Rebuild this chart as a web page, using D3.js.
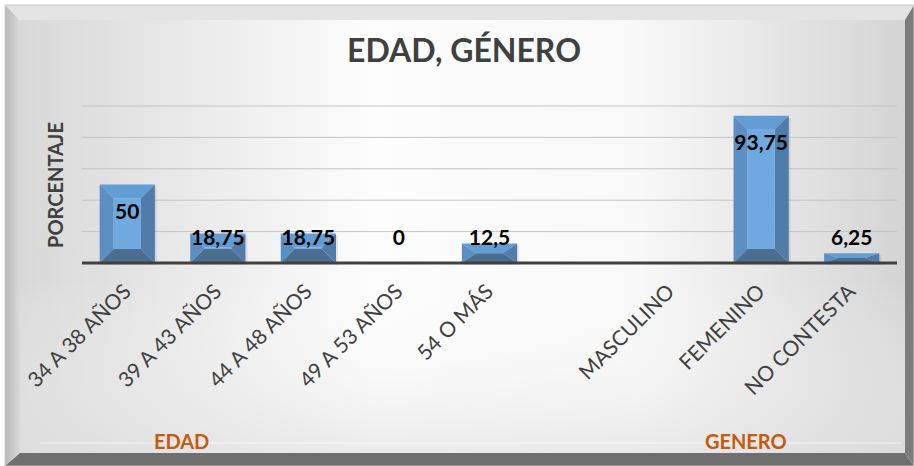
<!DOCTYPE html>
<html>
<head>
<meta charset="utf-8">
<script src="https://cdnjs.cloudflare.com/ajax/libs/d3/7.8.5/d3.min.js"></script>
<style>
    body { margin: 0; background: #ffffff; }
    svg text { font-family: Lato, "Open Sans", sans-serif; }
</style>
</head>
<body>
<div id="chart"><svg></svg></div>
<script>
// categories (empty one is the gap between the two groups)
var categories = ["34 A 38 AÑOS", "39 A 43 AÑOS", "44 A 48 AÑOS", "49 A 53 AÑOS", "54 O MÁS", "", "MASCULINO", "FEMENINO", "NO CONTESTA"];
var values = [50, 18.75, 18.75, 0, 12.5, null, null, 93.75, 6.25];
var yTicks = [0, 20, 40, 60, 80, 100];
var groupNames = ["EDAD", "GENERO"];

var width = 914, height = 466;
var svg = d3.select("#chart svg").attr("width", width).attr("height", height);
var defs = svg.append("defs");

// frame / background gradients
var bg = defs.append("linearGradient").attr("id", "bg").attr("x1", 0).attr("x2", 1).attr("y1", 0).attr("y2", 0);
bg.append("stop").attr("offset", "0%").attr("stop-color", "#d8d8d8");
bg.append("stop").attr("offset", "40%").attr("stop-color", "#fdfdfd");
bg.append("stop").attr("offset", "70%").attr("stop-color", "#f8f8f8");
bg.append("stop").attr("offset", "100%").attr("stop-color", "#d4d4d4");

var bgV = defs.append("linearGradient").attr("id", "bgV").attr("x1", 0).attr("x2", 0).attr("y1", 0).attr("y2", 1);
bgV.append("stop").attr("offset", "0%").attr("stop-color", "#ffffff").attr("stop-opacity", 0);
bgV.append("stop").attr("offset", "60%").attr("stop-color", "#ffffff").attr("stop-opacity", 0);
bgV.append("stop").attr("offset", "100%").attr("stop-color", "#e0e0e0").attr("stop-opacity", 0.6);

var leftBev = defs.append("linearGradient").attr("id", "leftBev").attr("x1", 0).attr("x2", 1).attr("y1", 0).attr("y2", 0);
leftBev.append("stop").attr("offset", "0%").attr("stop-color", "#b8b8b8");
leftBev.append("stop").attr("offset", "100%").attr("stop-color", "#dadada");

var L = 5, T = 5, R = 914, B = 466, bw = 15;
var inL = L + bw, inT = T + bw, inR = 905, inB = 453;

svg.append("polygon").attr("points", [[L, T], [R, T], [inR, inT], [inL, inT]].join(" ")).attr("fill", "#e4e4e4");
svg.append("polygon").attr("points", [[L, T], [inL, inT], [inL, inB], [L, B]].join(" ")).attr("fill", "url(#leftBev)");
svg.append("polygon").attr("points", [[L, B], [inL, inB], [inR, inB], [R, B]].join(" ")).attr("fill", "#6f6f6f");
svg.append("polygon").attr("points", [[R, T], [inR, inT], [inR, inB], [R, B]].join(" ")).attr("fill", "#7c7c7c");
svg.append("rect").attr("x", L).attr("y", T).attr("width", R - L).attr("height", B - T)
    .attr("fill", "none").attr("stroke", "#c8c8c8").attr("stroke-width", 1);
svg.append("rect").attr("x", inL).attr("y", inT).attr("width", inR - inL).attr("height", inB - inT).attr("fill", "url(#bg)");
svg.append("rect").attr("x", inL).attr("y", inT).attr("width", inR - inL).attr("height", inB - inT).attr("fill", "url(#bgV)");
svg.append("line").attr("x1", inL + 20).attr("x2", inR - 4).attr("y1", 443).attr("y2", 443)
    .attr("stroke", "#ffffff").attr("stroke-opacity", 0.7);

// scales
var x = d3.scaleBand().domain(d3.range(categories.length)).range([82, 897]).paddingInner(0.39).paddingOuter(0.195);
var y = d3.scaleLinear().domain([0, 100]).range([263, 106]);

// gridlines
svg.append("g").attr("class", "grid")
    .selectAll("line")
    .data(yTicks.slice(1))
    .enter().append("line")
    .attr("x1", 82).attr("x2", 897)
    .attr("y1", function(d) { return y(d); })
    .attr("y2", function(d) { return y(d); })
    .attr("stroke", "#c4c4c4").attr("stroke-width", 1);

// bevelled bars, drawn as a front face plus four trapezoids
var face = { front: "#70a9df", top: "#639dd6", left: "#5b8fc3", right: "#4f7ca9", bottom: "#4b6d91" };
var bars = svg.append("g").attr("class", "bars")
    .selectAll("g")
    .data(values.map(function(v, i) { return { i: i, v: v }; }).filter(function(d) { return d.v > 0; }))
    .enter().append("g");

bars.each(function(d) {
    var g = d3.select(this);
    var x0 = x(d.i), x1 = x(d.i) + x.bandwidth();
    var y0 = y(d.v), y1 = y(0);
    var b = Math.min(14, (y1 - y0) / 2);
    var ix0 = x0 + 14, ix1 = x1 - 14, iy0 = y0 + b, iy1 = y1 - b;
    g.append("rect").attr("x", x0 + 2).attr("y", y0 + 2).attr("width", x1 - x0).attr("height", y1 - y0)
        .attr("fill", "#000").attr("opacity", 0.08);
    g.append("polygon").attr("points", [[x0, y0], [x1, y0], [ix1, iy0], [ix0, iy0]].join(" ")).attr("fill", face.top);
    g.append("polygon").attr("points", [[x0, y0], [ix0, iy0], [ix0, iy1], [x0, y1]].join(" ")).attr("fill", face.left);
    g.append("polygon").attr("points", [[x1, y0], [ix1, iy0], [ix1, iy1], [x1, y1]].join(" ")).attr("fill", face.right);
    g.append("polygon").attr("points", [[x0, y1], [ix0, iy1], [ix1, iy1], [x1, y1]].join(" ")).attr("fill", face.bottom);
    g.append("rect").attr("x", ix0).attr("y", iy0).attr("width", ix1 - ix0).attr("height", Math.max(0, iy1 - iy0)).attr("fill", face.front);
});

// axis baseline
svg.append("line").attr("x1", 82).attr("x2", 897).attr("y1", y(0)).attr("y2", y(0))
    .attr("stroke", "#404040").attr("stroke-width", 3);

// data labels
svg.append("g").attr("class", "labels")
    .selectAll("text")
    .data(values.map(function(v, i) { return { i: i, v: v }; }).filter(function(d) { return d.v !== null; }))
    .enter().append("text")
    .attr("x", function(d) { return x(d.i) + x.bandwidth() / 2; })
    .attr("y", function(d) { return Math.min(y(d.v) + 27, y(16)) + 7; })
    .attr("text-anchor", "middle")
    .style("font-size", "21px").style("font-weight", "bold").style("fill", "#000")
    .text(function(d) { return String(d.v).replace(".", ","); });

// category labels, rotated
svg.append("g").attr("class", "cats")
    .selectAll("text")
    .data(categories)
    .enter().append("text")
    .attr("transform", function(d, i) {
        return "translate(" + (x(i) + x.bandwidth() / 2 + 5) + ",293) rotate(-45)";
    })
    .attr("text-anchor", "end")
    .style("font-size", "21px").style("fill", "#404040")
    .text(function(d) { return d; });

// group labels (Excel places them a bit off the group centre)
var groupX = [x.step() * 1.1 + 82, x.step() * 7.33 + 82];
svg.append("g").attr("class", "groups")
    .selectAll("text")
    .data(groupNames)
    .enter().append("text")
    .attr("x", function(d, i) { return groupX[i]; })
    .attr("y", 449)
    .attr("text-anchor", "middle")
    .style("font-size", "20px").style("font-weight", "bold").style("fill", "#c55a11")
    .text(function(d) { return d; });

// title and axis title
svg.append("text").attr("x", 464).attr("y", 62).attr("text-anchor", "middle")
    .style("font-size", "32px").style("font-weight", "bold").style("fill", "#404040")
    .text("EDAD, GÉNERO");

svg.append("text").attr("transform", "translate(63,185) rotate(-90)").attr("text-anchor", "middle")
    .style("font-size", "20px").style("font-weight", "bold").style("fill", "#404040")
    .text("PORCENTAJE");
</script>
</body>
</html>
